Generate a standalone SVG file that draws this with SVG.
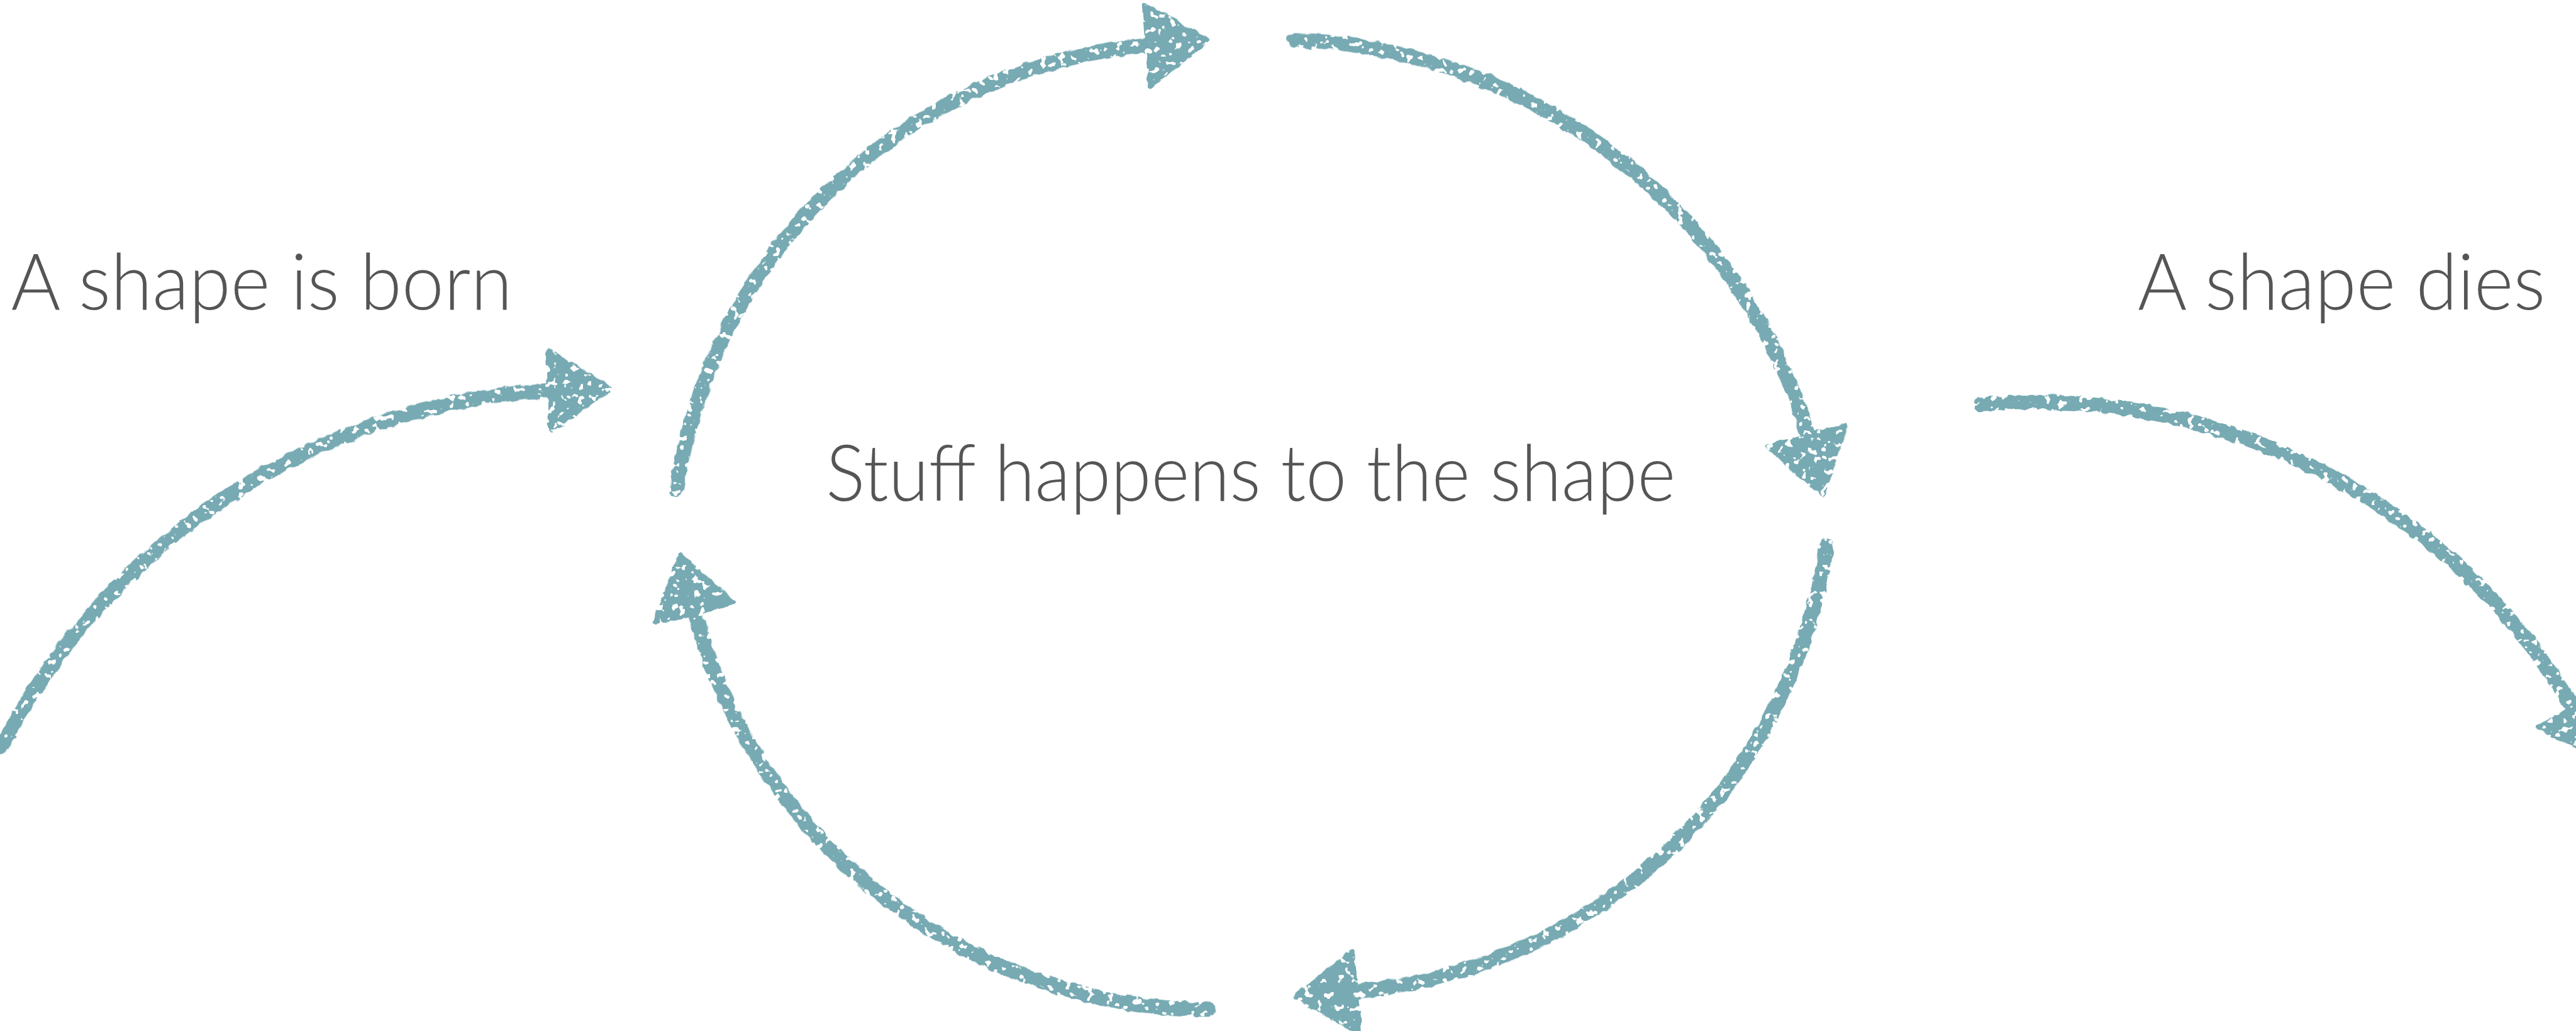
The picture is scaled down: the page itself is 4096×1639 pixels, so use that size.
<svg xmlns="http://www.w3.org/2000/svg" xmlns:xlink="http://www.w3.org/1999/xlink" width="4096" height="1639" viewBox="0 0 4096 1639">
  <style>
    .label { font-family: Lato, "Open Sans", "Liberation Sans", sans-serif; font-weight: 300; font-size: 128px; fill: #555555; }
    .shaft { fill: none; stroke: #77aab3; stroke-width: 24; stroke-linecap: round; }
    .head { fill: #77aab3; stroke: #77aab3; stroke-width: 8; stroke-linejoin: round; }
  </style>
  <defs>
    <!-- chalky, slightly broken texture for the hand-drawn arrows -->
    <filter id="chalk" x="-3%" y="-3%" width="106%" height="106%" color-interpolation-filters="sRGB">
      <feTurbulence type="fractalNoise" baseFrequency="0.06" numOctaves="2" seed="4" result="n1"/>
      <feDisplacementMap in="SourceGraphic" in2="n1" scale="9" xChannelSelector="R" yChannelSelector="G" result="rough"/>
      <feTurbulence type="fractalNoise" baseFrequency="0.09" numOctaves="2" seed="11" result="n2"/>
      <feColorMatrix in="n2" type="matrix" values="0 0 0 0 0  0 0 0 0 0  0 0 0 0 0  -22 0 0 0 14.6" result="mask"/>
      <feComposite in="rough" in2="mask" operator="in"/>
    </filter>
    <!-- arrowhead, tip at the origin pointing along +x -->
    <path id="head" class="head" d="M0,0 L-98,-66 L-98,66 Z"/>
  </defs>

  <rect width="4096" height="1639" fill="#ffffff"/>

  <g transform="scale(0.972)">
    <g id="connectors" filter="url(#chalk)">
      <!-- birth arrow into the cycle -->
      <path class="shaft" d="M 2 1222 A 1081 1081 0 0 1 905 638"/>
      <use xlink:href="#head" href="#head" transform="translate(997,636) rotate(-2)"/>
      <!-- cycle: left to top -->
      <path class="shaft" d="M 1107 801 A 852 852 0 0 1 1880 74"/>
      <use xlink:href="#head" href="#head" transform="translate(1975,66) rotate(-4.6)"/>
      <!-- cycle: top to right -->
      <path class="shaft" d="M 2117 65 A 915 915 0 0 1 2957 710"/>
      <use xlink:href="#head" href="#head" transform="translate(2981,808) rotate(75)"/>
      <!-- cycle: right to bottom -->
      <path class="shaft" d="M 2988 892 A 856 856 0 0 1 2224 1621"/>
      <use xlink:href="#head" href="#head" transform="translate(2120,1631) rotate(175)"/>
      <!-- cycle: bottom to left -->
      <path class="shaft" d="M 1975 1651 A 878 878 0 0 1 1137 1006"/>
      <use xlink:href="#head" href="#head" transform="translate(1112,907) rotate(-104)"/>
      <!-- death arrow out of the cycle -->
      <path class="shaft" d="M 3239 662 A 1022 1022 0 0 1 4208 1155"/>
      <use xlink:href="#head" href="#head" transform="translate(4260,1240) rotate(59)"/>
    </g>

    <g id="node-born">
      <text class="label" x="18" y="506" textLength="820" lengthAdjust="spacingAndGlyphs">A shape is born</text>
    </g>
    <g id="node-stuff">
      <text class="label" x="1351" y="819" textLength="1390" lengthAdjust="spacingAndGlyphs">Stuff happens to the shape</text>
    </g>
    <g id="node-dies">
      <text class="label" x="3497" y="506" textLength="667" lengthAdjust="spacingAndGlyphs">A shape dies</text>
    </g>
  </g>
</svg>
